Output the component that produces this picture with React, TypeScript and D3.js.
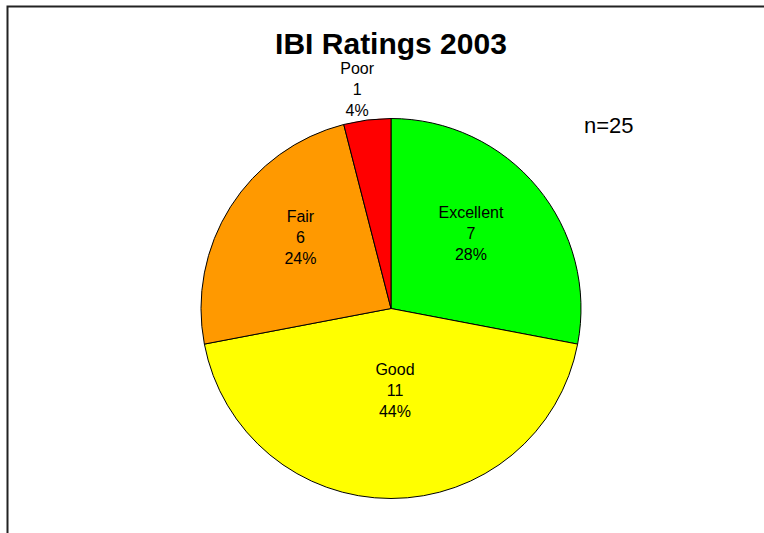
import React, { useEffect, useRef } from 'react';
import * as d3 from 'd3';

const categories = ['Excellent', 'Good', 'Fair', 'Poor'];
const counts = [7, 11, 6, 1];
const colors = ['#00ff00', '#ffff00', '#ff9900', '#ff0000'];
const titleText = 'IBI Ratings 2003';
const totalLabel = 'n=25';

// label placement: radius factor and angle shift (deg) relative to the slice middle
const labelRadius = [0.577, 0.43, 0.605, 1.166];
const labelShift = [-3.6, -2.8, 5.6, -1.6];

const width = 764;
const height = 533;

export default function App() {
  const ref = useRef<SVGSVGElement>(null);

  useEffect(() => {
    const svg = d3.select(ref.current);
    svg.selectAll('*').remove();

    const cx = 391;
    const cy = 308.5;
    const radius = 190;
    const total = d3.sum(counts);
    const font = '"Liberation Sans", Arial, sans-serif';

    // frame (only left and top edges visible)
    svg.append('path')
      .attr('d', `M7.5,${height} V6.5 H${width}`)
      .attr('fill', 'none')
      .attr('stroke', '#222')
      .attr('stroke-width', 2);

    svg.append('text')
      .attr('x', cx)
      .attr('y', 54)
      .attr('text-anchor', 'middle')
      .attr('font-family', font)
      .attr('font-weight', 'bold')
      .attr('font-size', 30)
      .text(titleText);

    svg.append('text')
      .attr('x', 584)
      .attr('y', 133)
      .attr('font-family', font)
      .attr('font-size', 22)
      .text(totalLabel);

    const pie = d3.pie<number>().sort(null).value(d => d);
    const arcs = pie(counts);
    const arc = d3.arc<d3.PieArcDatum<number>>().innerRadius(0).outerRadius(radius);

    const g = svg.append('g').attr('transform', `translate(${cx},${cy})`);

    g.selectAll('path.slice')
      .data(arcs)
      .join('path')
        .attr('class', 'slice')
        .attr('d', arc)
        .attr('fill', (d, i) => colors[i])
        .attr('stroke', '#000')
        .attr('stroke-width', 1);

    const labels = g.selectAll('g.label')
      .data(arcs)
      .join('g')
        .attr('class', 'label')
        .attr('transform', (d, i) => {
          const a = (d.startAngle + d.endAngle) / 2 + (labelShift[i] * Math.PI) / 180;
          const r = radius * labelRadius[i];
          return `translate(${r * Math.sin(a)},${-r * Math.cos(a)})`;
        });

    labels.each(function (d, i) {
      const lines = [categories[i], String(counts[i]), `${Math.round((counts[i] / total) * 100)}%`];
      d3.select(this).selectAll('text')
        .data(lines)
        .join('text')
          .attr('y', (t, j) => (j - 1) * 21)
          .attr('dy', '0.35em')
          .attr('text-anchor', 'middle')
          .attr('font-family', font)
          .attr('font-size', 16)
          .attr('fill', '#000')
          .text(t => t);
    });
  }, []);

  return (
    <svg
      ref={ref}
      width={width}
      height={height}
      style={{ position: 'absolute', left: 0, top: 0, background: '#fff' }}
    />
  );
}
